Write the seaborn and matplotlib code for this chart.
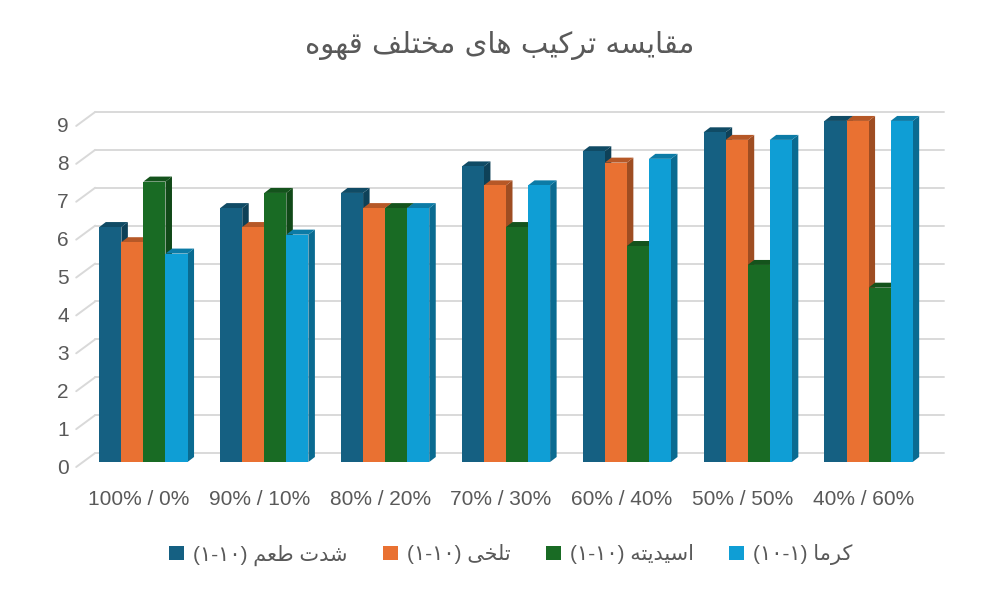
import matplotlib
matplotlib.use("Agg")
import matplotlib.pyplot as plt
import matplotlib.transforms as mtransforms
from matplotlib.patches import Polygon, Patch
import numpy as np
import pandas as pd
import seaborn as sns

# values (front face of each 3d bar)
blends = ["100% / 0%", "90% / 10%", "80% / 20%", "70% / 30%",
          "60% / 40%", "50% / 50%", "40% / 60%"]
intensity = [6.2, 6.7, 7.1, 7.8, 8.2, 8.7, 9.0]
bitterness = [5.8, 6.2, 6.7, 7.3, 7.9, 8.5, 9.0]
acidity = [7.4, 7.1, 6.7, 6.2, 5.7, 5.2, 4.6]
crema = [5.5, 6.0, 6.7, 7.3, 8.0, 8.5, 9.0]
series_names = ["شدت طعم", "تلخی", "اسیدیته", "کرما"]
series_ranges = ["(۱-۱۰)", "(۱-۱۰)", "(۱-۱۰)", "(۱۰-۱)"]
colors = ["#156082", "#E97132", "#196B24", "#0F9ED5"]
title = "مقایسه ترکیب های مختلف قهوه"
y_ticks = list(range(10))

# small arabic-script shaper: (isolated, final, initial, medial)
FORMS = {
    "ا": ("\uFE8D", "\uFE8E"),
    "ب": ("\uFE8F", "\uFE90", "\uFE91", "\uFE92"),
    "ت": ("\uFE95", "\uFE96", "\uFE97", "\uFE98"),
    "خ": ("\uFEA5", "\uFEA6", "\uFEA7", "\uFEA8"),
    "د": ("\uFEA9", "\uFEAA"),
    "ر": ("\uFEAD", "\uFEAE"),
    "س": ("\uFEB1", "\uFEB2", "\uFEB3", "\uFEB4"),
    "ش": ("\uFEB5", "\uFEB6", "\uFEB7", "\uFEB8"),
    "ط": ("\uFEC1", "\uFEC2", "\uFEC3", "\uFEC4"),
    "ع": ("\uFEC9", "\uFECA", "\uFECB", "\uFECC"),
    "ف": ("\uFED1", "\uFED2", "\uFED3", "\uFED4"),
    "ق": ("\uFED5", "\uFED6", "\uFED7", "\uFED8"),
    "ك": ("\uFED9", "\uFEDA", "\uFEDB", "\uFEDC"),
    "ک": ("\uFB8E", "\uFB8F", "\uFB90", "\uFB91"),
    "ل": ("\uFEDD", "\uFEDE", "\uFEDF", "\uFEE0"),
    "م": ("\uFEE1", "\uFEE2", "\uFEE3", "\uFEE4"),
    "ه": ("\uFEE9", "\uFEEA", "\uFEEB", "\uFEEC"),
    "و": ("\uFEED", "\uFEEE"),
    "ي": ("\uFEF1", "\uFEF2", "\uFEF3", "\uFEF4"),
    "ی": ("\uFBFC", "\uFBFD", "\uFBFE", "\uFBFF"),
}


def shape(text):
    out = []
    for i, ch in enumerate(text):
        f = FORMS.get(ch)
        if f is None:
            out.append(ch)
            continue
        prev = text[i - 1] if i > 0 else ""
        nxt = text[i + 1] if i + 1 < len(text) else ""
        join_prev = prev in FORMS and len(FORMS[prev]) == 4
        join_next = len(f) == 4 and nxt in FORMS
        if join_prev and join_next:
            out.append(f[3])
        elif join_prev:
            out.append(f[1])
        elif join_next:
            out.append(f[2])
        else:
            out.append(f[0])
    return "".join(out)[::-1]


df = pd.DataFrame({
    "blend": blends * 4,
    "series": np.repeat(series_names, len(blends)),
    "value": intensity + bitterness + acidity + crema,
})

sns.set_style("white")
plt.rcParams["font.family"] = ["Liberation Sans", "DejaVu Sans"]
grey = "#595959"

fig = plt.figure(figsize=(10, 6.01), dpi=100)
ax_w, ax_h = 846, 360
ax = fig.add_axes([83 / 1000, 139 / 601, ax_w / 1000, ax_h / 601])

sns.barplot(data=df, x="blend", y="value", hue="series", order=blends,
            hue_order=series_names, palette=colors, saturation=1,
            width=0.73, gap=0, legend=False, linewidth=0, ax=ax, zorder=3)

ax.set_xlim(-0.5, 6.5)
ax.set_ylim(0, 9.5)
sx = ax_w / 7.0     # px per x unit
sy = ax_h / 9.5     # px per y unit


def shifted(dx_px, dy_px):
    return ax.transData + mtransforms.ScaledTranslation(dx_px / 100, dy_px / 100, fig.dpi_scale_trans)


# fake 3d: side and top faces of every bar
bdx, bdy = 6.5 / sx, 5.0 / sy
for p in list(ax.patches):
    x, w, h = p.get_x(), p.get_width(), p.get_height()
    c = np.array(p.get_facecolor()[:3])
    side = Polygon([(x + w, 0), (x + w + bdx, bdy), (x + w + bdx, h + bdy), (x + w, h)],
                   closed=True, facecolor=c * 0.68, edgecolor="none", zorder=2, clip_on=False)
    top = Polygon([(x, h), (x + bdx, h + bdy), (x + w + bdx, h + bdy), (x + w, h)],
                  closed=True, facecolor=c * 0.78, edgecolor="none", zorder=2.5, clip_on=False)
    ax.add_patch(side)
    ax.add_patch(top)

# back wall gridlines and left wall diagonals
for v in y_ticks:
    ax.plot([-0.5, 6.52], [v, v], color="#d9d9d9", lw=1.4, zorder=1,
            transform=shifted(12.2, 9), clip_on=False)
    ax.plot([-0.5 - 6.8 / sx, -0.5 + 12.2 / sx], [v - 5 / sy, v + 9 / sy],
            color="#d9d9d9", lw=1.4, zorder=1, clip_on=False)
    ax.text(-0.5, v, str(v), transform=shifted(-14, -6), ha="right", va="center",
            fontsize=15, color=grey)

ax.set_yticks([])
ax.set_ylabel("")
ax.set_xlabel("")
ax.tick_params(axis="x", length=0, pad=20, labelsize=15, labelcolor=grey)
for lab in ax.get_xticklabels():
    lab.set_transform(lab.get_transform() + mtransforms.ScaledTranslation(-0.05, 0, fig.dpi_scale_trans))
sns.despine(ax=ax, left=True, bottom=True)

fig.text(0.5, 1 - 45 / 601, shape(title), ha="center", va="center",
         fontsize=21, color=grey, family=["DejaVu Sans"])

handles = [Patch(facecolor=c, edgecolor="none") for c in colors]
labels = [r + " " + shape(n) for n, r in zip(series_names, series_ranges)]
fig.legend(handles, labels, loc="center", bbox_to_anchor=(511 / 1000, 1 - 555 / 601),
           ncol=4, frameon=False, handlelength=0.7, handleheight=0.7,
           handletextpad=0.45, columnspacing=1.7,
           prop={"family": ["Liberation Sans", "DejaVu Sans"], "size": 15},
           labelcolor=grey)

fig.savefig("out.png", dpi=100)
